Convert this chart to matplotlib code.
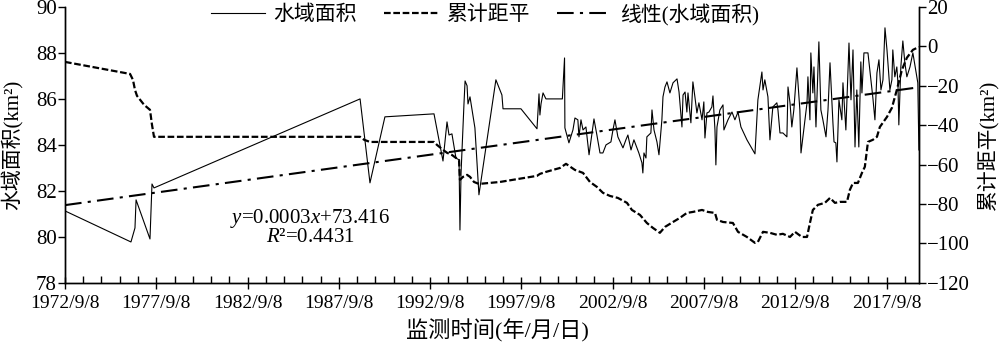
import datetime as dt
import matplotlib
matplotlib.use("Agg")
import matplotlib.pyplot as plt
import matplotlib.dates as mdates

plt.rcParams['font.family'] = ['Liberation Serif', 'Noto Sans CJK SC']
plt.rcParams['mathtext.fontset'] = 'custom'
plt.rcParams['mathtext.rm'] = 'Liberation Serif'
plt.rcParams['mathtext.it'] = 'Liberation Serif:italic'

# 水域面积 (km2), time as decimal year
area_t = [1972.687, 1976.30, 1976.52, 1976.58, 1977.34, 1977.45, 1977.56, 1988.85, 1989.39, 1990.21,
          1992.90, 1993.39, 1993.61, 1993.72, 1993.88, 1994.10, 1994.27, 1994.32, 1994.38, 1994.54,
          1994.60, 1994.71, 1994.76, 1994.87, 1995.14, 1995.36, 1996.29, 1996.62, 1996.68, 1997.66,
          1998.54, 1998.65, 1998.70, 1998.76, 1998.87, 1999.03, 1999.93, 2000.05, 2000.07, 2000.29,
          2000.51, 2000.62, 2000.78, 2000.84, 2000.95, 2001.06, 2001.22, 2001.39, 2001.66, 2001.82,
          2001.99, 2002.15, 2002.32, 2002.59, 2002.70, 2002.81, 2002.97, 2003.25, 2003.41, 2003.52,
          2003.69, 2003.85, 2004.12, 2004.29, 2004.34, 2004.40, 2004.51, 2004.56, 2004.78, 2004.84,
          2004.95, 2005.11, 2005.22, 2005.38, 2005.44, 2005.55, 2005.66, 2005.82, 2005.99, 2006.21,
          2006.32, 2006.48, 2006.54, 2006.65, 2006.75, 2006.81, 2006.97, 2007.08, 2007.19, 2007.30,
          2007.41, 2007.58, 2007.68, 2007.74, 2007.85, 2007.96, 2008.12, 2008.18, 2008.29, 2008.34,
          2008.40, 2008.56, 2008.73, 2008.78, 2009.00, 2009.22, 2009.38, 2009.55, 2009.71, 2010.04,
          2010.48, 2010.64, 2010.86, 2010.92, 2011.02, 2011.19, 2011.30, 2011.46, 2011.68, 2011.74,
          2011.85, 2012.01, 2012.23, 2012.29, 2012.40, 2012.50, 2012.61, 2012.78, 2012.94, 2013.00,
          2013.22, 2013.33, 2013.38, 2013.49, 2013.54, 2013.65, 2013.71, 2013.82, 2013.98, 2014.09,
          2014.20, 2014.37, 2014.48, 2014.59, 2014.75, 2014.81, 2014.91, 2014.97, 2015.08, 2015.24,
          2015.30, 2015.46, 2015.63, 2015.74, 2015.85, 2015.96, 2016.06, 2016.17, 2016.28, 2016.34,
          2016.45, 2016.67, 2016.83, 2016.94, 2017.05, 2017.16, 2017.27, 2017.38, 2017.49, 2017.60,
          2017.71, 2017.87, 2017.98, 2018.03, 2018.14, 2018.25, 2018.31, 2018.36, 2018.47, 2018.58,
          2018.69, 2018.80, 2018.97, 2019.13, 2019.40, 2019.46]
area_v = [81.13, 79.78, 80.39, 81.61, 79.91, 82.30, 82.13, 86.00, 82.35, 85.22,
          85.35, 83.30, 85.00, 84.43, 84.48, 83.43, 83.35, 80.30, 82.78, 85.78,
          86.78, 86.57, 85.78, 86.09, 84.74, 81.83, 86.83, 86.17, 85.57, 85.57,
          84.70, 86.22, 85.30, 85.78, 86.26, 86.00, 86.00, 87.78, 84.74, 84.09,
          84.65, 85.17, 85.09, 84.35, 85.09, 84.65, 84.78, 83.57, 85.13, 84.43,
          83.65, 83.65, 84.00, 84.13, 84.65, 85.09, 84.35, 83.87, 84.22, 84.43,
          83.78, 84.22, 83.65, 83.22, 82.78, 83.65, 83.43, 84.35, 84.52, 85.52,
          84.65, 84.13, 83.57, 85.09, 86.09, 86.52, 86.74, 86.26, 86.70, 86.87,
          86.30, 84.78, 86.17, 86.30, 85.43, 86.26, 84.96, 86.74, 86.09, 85.39,
          85.83, 85.09, 85.87, 84.30, 85.39, 85.43, 85.65, 86.13, 84.65, 83.13,
          84.78, 85.52, 85.74, 84.65, 85.09, 85.43, 85.09, 85.43, 84.78, 84.22,
          83.61, 85.96, 87.17, 86.39, 86.83, 86.09, 84.22, 85.65, 85.83, 85.52,
          84.52, 84.52, 84.35, 86.52, 85.83, 84.78, 85.52, 87.35, 85.52, 83.65,
          85.09, 85.83, 86.96, 85.09, 88.00, 86.26, 87.39, 84.78, 88.48, 85.52,
          85.09, 84.35, 85.52, 87.57, 84.96, 84.13, 84.09, 83.26, 85.96, 85.09,
          86.70, 84.65, 88.43, 85.96, 88.13, 83.91, 86.39, 83.91, 87.61, 86.26,
          88.00, 88.00, 86.83, 86.04, 85.09, 87.13, 87.70, 86.39, 86.83, 89.09,
          88.13, 86.39, 86.83, 88.13, 86.96, 87.39, 86.70, 84.87, 87.39, 88.52,
          87.57, 86.96, 87.39, 88.00, 86.70, 83.78]

# 累计距平 (km2)
cum_t = [1972.687, 1976.25, 1976.41, 1976.52, 1976.63, 1977.02, 1977.34, 1977.45, 1977.56, 1988.85,
         1989.07, 1989.39, 1992.90, 1993.06, 1993.39, 1993.61, 1993.88, 1994.10, 1994.27, 1994.32,
         1994.49, 1994.71, 1994.87, 1995.09, 1995.36, 1996.51, 1998.54, 1998.70, 1999.03, 1999.41,
         1999.80, 2000.13, 2000.62, 2001.06, 2001.44, 2001.82, 2002.15, 2002.54, 2002.97, 2003.47,
         2003.74, 2004.18, 2004.56, 2004.89, 2005.27, 2005.55, 2005.99, 2006.37, 2006.75, 2007.08,
         2007.58, 2007.90, 2008.29, 2008.40, 2008.73, 2009.27, 2009.55, 2010.04, 2010.48, 2010.64,
         2010.92, 2011.30, 2011.68, 2012.01, 2012.40, 2012.67, 2013.05, 2013.33, 2013.49, 2013.65,
         2013.93, 2014.31, 2014.59, 2014.86, 2015.13, 2015.52, 2015.68, 2015.85, 2016.12, 2016.34,
         2016.50, 2016.67, 2016.94, 2017.16, 2017.32, 2017.71, 2017.98, 2018.25, 2018.53, 2018.80,
         2019.13, 2019.46]
cum_v = [-7.9, -14.0, -17.0, -22.1, -25.1, -29.7, -32.2, -39.8, -45.9, -45.9,
         -47.4, -48.5, -48.5, -50.0, -52.5, -54.0, -55.1, -56.6, -57.6, -67.7,
         -66.2, -65.2, -66.2, -68.8, -69.8, -68.8, -65.7, -64.7, -63.7, -62.7,
         -61.7, -59.6, -62.7, -64.2, -68.8, -71.3, -74.3, -75.9, -76.9, -79.4,
         -83.0, -85.5, -89.6, -92.1, -94.6, -91.6, -89.1, -87.0, -84.5, -84.0,
         -83.0, -84.0, -84.5, -88.0, -89.1, -89.6, -94.1, -96.7, -99.7, -99.2,
         -94.1, -94.6, -95.6, -95.1, -96.7, -94.1, -96.7, -96.7, -89.6, -83.0,
         -80.4, -79.4, -76.9, -79.4, -78.9, -78.9, -72.8, -69.3, -69.3, -64.2,
         -61.1, -48.5, -47.4, -45.9, -40.9, -35.8, -31.2, -22.1, -11.9, -5.8,
         -1.8, -0.3]

# 线性(水域面积): y = 0.0003x + 73.416, x = Excel date serial
slope = 0.0003
intercept = 73.416

major_years = list(range(1972, 2018, 5))
minor_years = list(range(1973, 2020))


def to_date(y):
    yr = int(y)
    return dt.datetime(yr, 1, 1) + dt.timedelta(days=(y - yr) * 365.25)


start = dt.datetime(1972, 9, 8)
end = dt.datetime(2019, 6, 20)

fig = plt.figure(figsize=(10, 3.45), dpi=100)
ax = fig.add_axes([0.065, 0.180, 0.854, 0.800])
ax2 = ax.twinx()

area_d = [to_date(t) for t in area_t]
cum_d = [to_date(t) for t in cum_t]
trend_d = [start, end]
excel0 = dt.datetime(1899, 12, 30)
trend_v = [slope * (d - excel0).days + intercept for d in trend_d]

l1, = ax.plot(area_d, area_v, color='black', lw=0.8)
l3, = ax.plot(trend_d, trend_v, color='black', lw=1.5, linestyle=(0, (8, 3, 1.5, 3)))
l2, = ax2.plot(cum_d, cum_v, color='black', lw=1.6, linestyle=(0, (3, 1.2)))

ax.set_xlim(start, end)
ax.set_ylim(78, 90)
ax.set_yticks(range(78, 91, 2))
ax2.set_ylim(-120, 20)
ax2.set_yticks(range(-120, 21, 20))

ax.xaxis.set_major_locator(matplotlib.ticker.FixedLocator(
    [mdates.date2num(dt.datetime(y, 9, 8)) for y in major_years]))
ax.xaxis.set_minor_locator(matplotlib.ticker.FixedLocator(
    [mdates.date2num(dt.datetime(y, 9, 8)) for y in minor_years]))
ax.set_xticklabels([f"{y}/9/8" for y in major_years])

for a in (ax, ax2):
    a.spines['top'].set_visible(False)
    for s in a.spines.values():
        s.set_linewidth(1.0)
ax.tick_params(axis='x', which='major', direction='inout', length=9, width=1.0, labelsize=14, pad=4)
ax.tick_params(axis='x', which='minor', direction='in', length=5, width=1.0)
ax.tick_params(axis='y', direction='out', length=5, width=1.0, labelsize=15, pad=1)
ax2.tick_params(axis='y', direction='out', length=5, width=1.0, labelsize=15, pad=1)

ax.set_ylabel('水域面积(km²)', fontsize=15)
ax.yaxis.set_label_coords(-0.050, 0.5)
ax2.set_ylabel('累计距平(km²)', fontsize=15)
ax2.yaxis.set_label_coords(1.068, 0.5)
ax.set_xlabel('监测时间(年/月/日)', fontsize=16)
ax.xaxis.set_label_coords(0.506, -0.13)

ax.text(0.287, 0.232, r'$y$=0.0003$x$+73.416', transform=ax.transAxes,
        ha='center', va='center', fontsize=15)
ax.text(0.287, 0.163, r'$R$²=0.4431', transform=ax.transAxes,
        ha='center', va='center', fontsize=15)

fig.legend([l1, l2, l3], ['水域面积', '累计距平', '线性(水域面积)'],
           loc='center', bbox_to_anchor=(0.485, 0.958), ncol=3, frameon=False,
           fontsize=15, handlelength=2.6, columnspacing=1.3, handletextpad=0.4)

fig.savefig('out.png', dpi=100)
